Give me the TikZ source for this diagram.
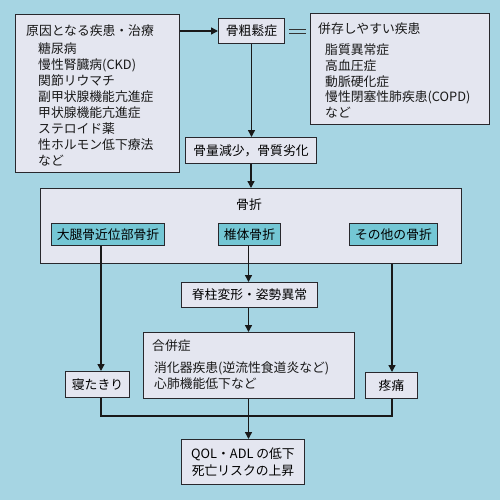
\documentclass[tikz,border=0pt]{standalone}
\usepackage{fontspec}
\setmainfont{Noto Sans CJK JP}
\usetikzlibrary{arrows.meta}
\definecolor{bg}{RGB}{166,213,227}
\definecolor{boxfill}{RGB}{228,230,240}
\definecolor{subfill}{RGB}{116,199,213}
\definecolor{edge}{RGB}{40,40,45}
\begin{document}
\begin{tikzpicture}[x=1pt,y=-1pt,
  font=\fontsize{12.8}{15.9}\selectfont,
  box/.style={draw=edge, line width=1pt, fill=boxfill, inner sep=0, anchor=north west},
  sub/.style={draw=edge, line width=0.9pt, fill=subfill, inner sep=0, anchor=north west},
  txt/.style={inner sep=0, align=left, anchor=west, text=black!90},
  arr/.style={draw=black!90, line width=1.4pt, -{Triangle[length=7pt,width=7pt]}},
  ln/.style={draw=black!90, line width=1.4pt},
  eqline/.style={draw=black!80, line width=0.8pt}]
\fill[bg] (0,0) rectangle (500,500);
\useasboundingbox (0,0) rectangle (500,500);

% top row
\node[box, minimum width=164pt, minimum height=158pt] (cause) at (15,14) {};
\node[txt] (causet) at (26,31) {原因となる疾患・治療};
\node[txt] (causei) at (38,104.5) {糖尿病\\慢性腎臓病(CKD)\\関節リウマチ\\副甲状腺機能亢進症\\甲状腺機能亢進症\\ステロイド薬\\性ホルモン低下療法\\など};

\node[box, minimum width=66pt, minimum height=25pt] (kotsu) at (218,18) {};
\node[inner sep=0] (kotsut) at (kotsu.center) {骨粗鬆症};

\node[box, minimum width=179pt, minimum height=111pt] (heizon) at (310,13) {};
\node[txt] (heizont) at (318,29) {併存しやすい疾患};
\node[txt] (heizoni) at (325,81) {脂質異常症\\高血圧症\\動脈硬化症\\慢性閉塞性肺疾患(COPD)\\など};

\node[box, minimum width=131pt, minimum height=26pt] (ryo) at (185,137) {};
\node[inner sep=0] (ryot) at (ryo.center) {骨量減少，骨質劣化};

% fracture group
\node[box, minimum width=421pt, minimum height=75pt] (kossetsu) at (40,188) {};
\node[inner sep=0] (kossetsut) at (249,205) {骨折};
\node[sub, minimum width=113pt, minimum height=22pt] (daitai) at (51,223) {};
\node[inner sep=0] (daitait) at (daitai.center) {大腿骨近位部骨折};
\node[sub, minimum width=62pt, minimum height=22pt] (tsui) at (218,223) {};
\node[inner sep=0] (tsuit) at (tsui.center) {椎体骨折};
\node[sub, minimum width=88pt, minimum height=22pt] (sonota) at (349,223) {};
\node[inner sep=0] (sonotat) at (sonota.center) {その他の骨折};

\node[box, minimum width=136pt, minimum height=25pt] (sekichu) at (181,282) {};
\node[inner sep=0] (sekichut) at (sekichu.center) {脊柱変形・姿勢異常};

\node[box, minimum width=211pt, minimum height=66pt] (gappei) at (143,332) {};
\node[txt] (gappeit) at (152,346) {合併症};
\node[txt] (gappeii) at (154,376) {消化器疾患(逆流性食道炎など)\\心肺機能低下など};

\node[box, minimum width=64pt, minimum height=26pt] (netakiri) at (65,371) {};
\node[inner sep=0] (netakirit) at (netakiri.center) {寝たきり};
\node[box, minimum width=52pt, minimum height=26pt] (toutsu) at (365,372) {};
\node[inner sep=0] (toutsut) at (toutsu.center) {疼痛};

\node[box, minimum width=123pt, minimum height=45pt] (qol) at (181,439) {};
\node[inner sep=0, align=center, font=\fontsize{12.8}{17}\selectfont] (qolt) at (qol.center) {QOL・ADL の低下\\死亡リスクの上昇};

% helper coordinates
\coordinate (colL) at (101,0);
\coordinate (colM) at (248.5,0);
\coordinate (colR) at (392,0);
\coordinate (join) at (0,416);

% connectors
\draw[arr] (cause.east |- kotsu.west) -- (kotsu.west);
\draw[eqline] ([xshift=4pt,yshift=-2pt]kotsu.east) -- ([xshift=-4pt,yshift=-2pt]kotsu.east -| heizon.west);
\draw[eqline] ([xshift=4pt,yshift=2pt]kotsu.east) -- ([xshift=-4pt,yshift=2pt]kotsu.east -| heizon.west);
\draw[arr] (kotsu.south) -- (ryo.north -| kotsu.south);
\draw[arr] (ryo.south) -- (kossetsu.north -| ryo.south);
\draw[arr] (daitai.south -| colL) -- (netakiri.north -| colL);
\draw[arr] (kossetsu.south -| colR) -- (toutsu.north -| colR);
\draw[arr] (tsui.south -| colM) -- (sekichu.north -| colM);
\draw[arr] (sekichu.south -| colM) -- (gappei.north -| colM);
\draw[ln] (netakiri.south -| colL) -- (join -| colL) -- (join -| colR) -- (toutsu.south -| colR);
\draw[arr] (gappei.south -| colM) -- (qol.north -| colM);
\end{tikzpicture}
\end{document}
